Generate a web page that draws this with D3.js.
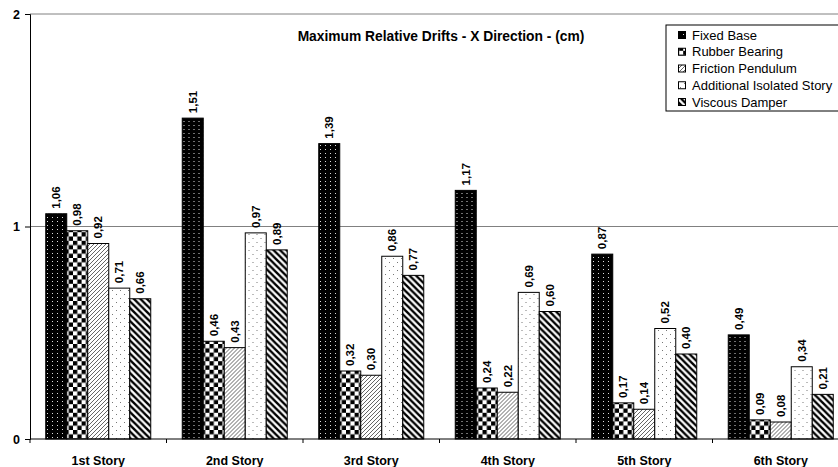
<!DOCTYPE html>
<html>
<head>
<meta charset="utf-8">
<script src="https://cdn.jsdelivr.net/npm/d3@7"></script>
<style>
  html, body { margin: 0; padding: 0; background: #fff; }
  svg { display: block; font-family: "Liberation Sans", Arial, sans-serif; }
</style>
</head>
<body>
<svg id="chart" width="838" height="467"></svg>
<script>
// Story categories and drift values (cm) per system
const categories = ["1st Story", "2nd Story", "3rd Story", "4th Story", "5th Story", "6th Story"];
const seriesNames = ["Fixed Base", "Rubber Bearing", "Friction Pendulum", "Additional Isolated Story", "Viscous Damper"];
const fixedBase = [1.06, 1.51, 1.39, 1.17, 0.87, 0.49];
const rubberBearing = [0.98, 0.46, 0.32, 0.24, 0.17, 0.09];
const frictionPendulum = [0.92, 0.43, 0.30, 0.22, 0.14, 0.08];
const additionalIsolated = [0.71, 0.97, 0.86, 0.69, 0.52, 0.34];
const viscousDamper = [0.66, 0.89, 0.77, 0.60, 0.40, 0.21];
const yTicks = [0, 1, 2];
const title = "Maximum Relative Drifts - X Direction - (cm)";

const seriesValues = [fixedBase, rubberBearing, frictionPendulum, additionalIsolated, viscousDamper];

const svg = d3.select("#chart");
const margin = { left: 30, top: 14, bottom: 28 };
const bandW = 136.5;
const plotH = 467 - margin.top - margin.bottom;

const x = d3.scaleBand().domain(categories)
  .range([margin.left, margin.left + bandW * categories.length])
  .paddingInner(0).paddingOuter(0);
const xs = d3.scaleBand().domain(seriesNames)
  .range([0, x.bandwidth()]).paddingOuter(0.75).paddingInner(0);
const y = d3.scaleLinear().domain([0, 2]).range([margin.top + plotH, margin.top]);

// Fill patterns
const defs = svg.append("defs");
const pFixed = defs.append("pattern").attr("id", "p0").attr("patternUnits", "userSpaceOnUse")
  .attr("width", 5).attr("height", 4);
pFixed.append("rect").attr("width", 5).attr("height", 4).attr("fill", "#000");
pFixed.append("rect").attr("x", 2).attr("y", 1).attr("width", 1).attr("height", 1).attr("fill", "#ddd");

const pRub = defs.append("pattern").attr("id", "p1").attr("patternUnits", "userSpaceOnUse")
  .attr("width", 8.6).attr("height", 8.6);
pRub.append("rect").attr("width", 8.6).attr("height", 8.6).attr("fill", "#fff");
pRub.append("rect").attr("width", 4.3).attr("height", 4.3).attr("fill", "#000");
pRub.append("rect").attr("x", 4.3).attr("y", 4.3).attr("width", 4.3).attr("height", 4.3).attr("fill", "#000");

const pFric = defs.append("pattern").attr("id", "p2").attr("patternUnits", "userSpaceOnUse")
  .attr("width", 4).attr("height", 4);
pFric.append("rect").attr("width", 4).attr("height", 4).attr("fill", "#fff");
pFric.append("path").attr("d", "M-1,1 L1,-1 M0,4 L4,0 M3,5 L5,3")
  .attr("stroke", "#555").attr("stroke-width", 0.9);

const pAdd = defs.append("pattern").attr("id", "p3").attr("patternUnits", "userSpaceOnUse")
  .attr("width", 8).attr("height", 8);
pAdd.append("rect").attr("width", 8).attr("height", 8).attr("fill", "#fff");
pAdd.append("rect").attr("x", 2).attr("y", 2).attr("width", 1).attr("height", 1).attr("fill", "#777");
pAdd.append("rect").attr("x", 6).attr("y", 6).attr("width", 1).attr("height", 1).attr("fill", "#777");

const pVis = defs.append("pattern").attr("id", "p4").attr("patternUnits", "userSpaceOnUse")
  .attr("width", 6.5).attr("height", 6.5);
pVis.append("rect").attr("width", 6.5).attr("height", 6.5).attr("fill", "#fff");
pVis.append("path").attr("d", "M-1,5.5 L1,7.5 M0,0 L6.5,6.5 M5.5,-1 L7.5,1")
  .attr("stroke", "#000").attr("stroke-width", 2.4);

const fills = ["url(#p0)", "url(#p1)", "url(#p2)", "url(#p3)", "url(#p4)"];

// Gridlines
svg.append("g").selectAll("line").data(yTicks.filter(d => d > 0)).join("line")
  .attr("x1", margin.left).attr("x2", 838)
  .attr("y1", d => y(d)).attr("y2", d => y(d))
  .attr("stroke", "#808080").attr("stroke-width", 1);

// Bars with rotated value labels
const groups = svg.append("g").selectAll("g").data(categories).join("g")
  .attr("transform", d => `translate(${x(d)},0)`);

groups.each(function(cat, ci) {
  const g = d3.select(this);
  seriesNames.forEach((s, si) => {
    const v = seriesValues[si][ci];
    g.append("rect")
      .attr("x", xs(s)).attr("y", y(v))
      .attr("width", xs.bandwidth()).attr("height", y(0) - y(v))
      .attr("fill", fills[si]).attr("stroke", "#000").attr("stroke-width", 1);
    const cx = xs(s) + xs.bandwidth() / 2 + 4;
    g.append("text")
      .attr("transform", `translate(${cx},${y(v) - 5}) rotate(-90)`)
      .attr("text-anchor", "start")
      .attr("font-size", 11.5).attr("font-weight", "bold")
      .text(d3.format(".2f")(v).replace(".", ","));
  });
});

// Axes
const yAxis = d3.axisLeft(y).tickValues(yTicks).tickSize(5).tickFormat(d3.format("d"));
const gy = svg.append("g").attr("transform", `translate(${margin.left},0)`).call(yAxis);
gy.select(".domain").attr("stroke", "#000");
gy.selectAll(".tick line").attr("stroke", "#000");
gy.selectAll("text").attr("font-size", 12.5).attr("font-weight", "bold")
  .attr("font-family", "Liberation Sans, Arial, sans-serif").attr("x", -10);

const xAxisLine = svg.append("g").attr("transform", `translate(0,${y(0)})`);
xAxisLine.append("line").attr("x1", margin.left).attr("x2", 838).attr("stroke", "#000");
const boundaries = d3.range(categories.length + 1).map(i => margin.left + i * bandW);
xAxisLine.selectAll("line.tk").data(boundaries).join("line").attr("class", "tk")
  .attr("x1", d => d).attr("x2", d => d).attr("y1", 0).attr("y2", 4).attr("stroke", "#000");
xAxisLine.selectAll("text").data(categories).join("text")
  .attr("x", d => x(d) + x.bandwidth() / 2).attr("y", 26)
  .attr("text-anchor", "middle").attr("font-size", 12.5).attr("font-weight", "bold")
  .text(d => d);

// Title
svg.append("text").attr("x", 441).attr("y", 41).attr("text-anchor", "middle")
  .attr("font-size", 13.8).attr("font-weight", "bold").text(title);

// Legend
const leg = svg.append("g").attr("transform", "translate(666,25)");
leg.append("rect").attr("width", 180).attr("height", 86).attr("fill", "#fff")
  .attr("stroke", "#000").attr("stroke-width", 1);
seriesNames.forEach((s, i) => {
  const yy = 10 + i * 16.75;
  leg.append("rect").attr("x", 12.5).attr("y", yy - 3.5).attr("width", 7).attr("height", 7)
    .attr("fill", fills[i]).attr("stroke", "#000").attr("stroke-width", 1);
  leg.append("text").attr("x", 26).attr("y", yy + 4.5).attr("font-size", 13).text(s);
});
</script>
</body>
</html>
